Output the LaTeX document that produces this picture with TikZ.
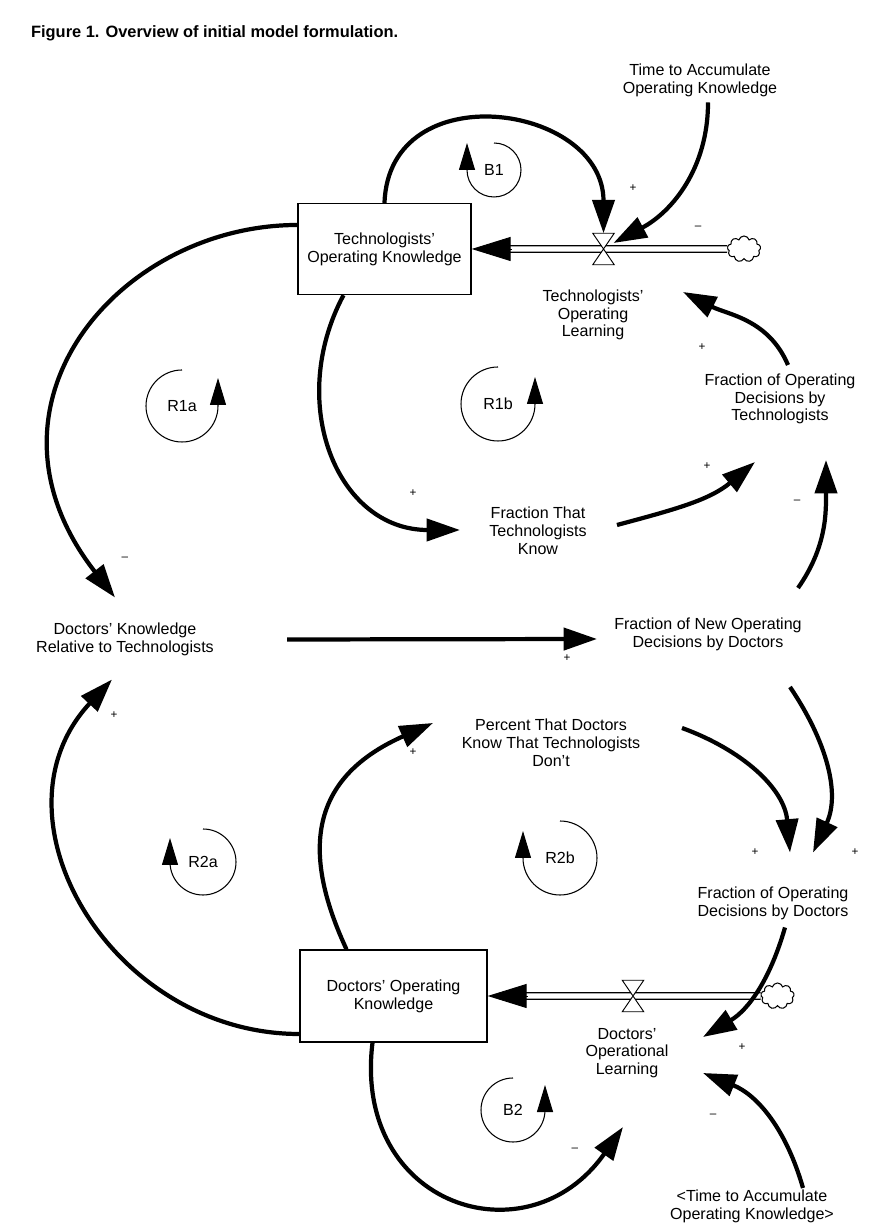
\documentclass[tikz,border=0pt]{standalone}
\usepackage{fontspec}
\setmainfont{Liberation Sans}
\usetikzlibrary{arrows.meta,calc,shapes.symbols}

\tikzset{
  link/.style={line width=3.6pt, -{Triangle[length=1cm,width=0.66cm]}},
  pipe/.style={double, double distance=0.16cm, line width=1pt},
  flowtip/.style={line width=0.8pt, -{Triangle[length=1.17cm,width=0.72cm]}},
  stock/.style={draw, line width=1.1pt, align=center, inner sep=0pt},
  var/.style={align=center},
  valve/.style={minimum width=0.63cm, minimum height=0.93cm, inner sep=0pt},
  source/.style={cloud, draw, cloud puffs=9, aspect=1.3, minimum width=1cm,
                 minimum height=0.78cm, inner sep=0pt, line width=0.9pt, fill=white},
  loopmark/.style={line width=0.9pt, -{Triangle[length=0.81cm,width=0.48cm]}},
  sgn/.style={font=\fontsize{10}{10}\selectfont, inner sep=0pt}
}

\begin{document}
\begin{tikzpicture}[x=0.03cm, y=0.03cm, font=\fontsize{13.7}{15.2}\selectfont]
  \useasboundingbox (0,0) rectangle (885,1229);

  \node[anchor=west, font=\fontsize{14}{16}\selectfont\bfseries] (title) at (27,1196)
    {Figure 1. Overview of initial model formulation.};

  % Technologists' stock and flow
  \node[stock, minimum width=5.19cm, minimum height=2.73cm] (tok) at (384.5,980)
    {Technologists’\\Operating Knowledge};
  \node[valve] (vT) at (603.5,980) {};
  \node[source] (cloudT) at (744,980) {};
  \node[var] (tol) at (593,914) {Technologists’\\Operating\\Learning};
  \node[var] (ttak) at (700,1148.5) {Time to Accumulate\\Operating Knowledge};
  \draw[pipe] (cloudT.west) -- ($(tok.east)+(38,0)$);
  \draw[flowtip] ($(tok.east)+(40,0)$) -- (tok.east);
  \draw[fill=white, line width=0.8pt] (vT.north west) -- (vT.north east)
    -- (vT.south west) -- (vT.south east) -- cycle;

  % auxiliaries
  \node[var] (fodt) at (780,830) {Fraction of Operating\\Decisions by\\Technologists};
  \node[var] (fttk) at (538,698) {Fraction That\\Technologists\\Know};
  \node[var] (dkrt) at (125,589.5) {Doctors’ Knowledge\\Relative to Technologists};
  \node[var] (fnodd) at (708,595) {Fraction of New Operating\\Decisions by Doctors};
  \node[var] (ptdk) at (551,486) {Percent That Doctors\\Know That Technologists\\Don’t};
  \node[var] (fodd) at (773,325.5) {Fraction of Operating\\Decisions by Doctors};

  % Doctors' stock and flow
  \node[stock, minimum width=5.61cm, minimum height=2.76cm] (dok) at (393.5,233)
    {Doctors’ Operating\\Knowledge};
  \node[valve] (vD) at (633,233) {};
  \node[source] (cloudD) at (777.5,233) {};
  \node[var] (dol) at (627,176) {Doctors’\\Operational\\Learning};
  \node[var] (ttak2) at (752,23) {<Time to Accumulate\\Operating Knowledge>};
  \draw[pipe] (cloudD.west) -- ($(dok.east)+(38,0)$);
  \draw[flowtip] ($(dok.east)+(40,0)$) -- (dok.east);
  \draw[fill=white, line width=0.8pt] (vD.north west) -- (vD.north east)
    -- (vD.south west) -- (vD.south east) -- cycle;

  % causal links
  \draw[link] (tok.north) to[out=88, in=90, looseness=1.5] (vT.north);
  \draw[link] ($(ttak)+(8,-22)$) to[out=-90, in=28] ($(vT)+(10,6)$);
  \draw[link] ($(tok.west)+(0,24)$) to[out=180, in=128, out looseness=1.1, in looseness=1.5]
    ($(dkrt)+(-10,42)$);
  \draw[link] ($(tok.south)+(-41,0)$) to[out=242, in=180, looseness=1.2] ($(fttk)+(-78,1)$);
  \draw[link] ($(fttk)+(79,6)$) to[out=15, in=220] ($(fodt)+(-25,-63)$);
  \draw[link] ($(fodt)+(8,34)$) to[out=113, in=-27] ($(tol)+(90,23)$);
  \draw[link] ($(fnodd)+(90,46)$) to[out=55, in=-90] ($(fodt)+(46,-61)$);
  \draw[link] ($(dkrt)+(162,0)$) -- ($(fnodd)+(-111,-5)$);
  \draw[link] ($(ptdk)+(131,15)$) to[out=-20, in=95] ($(fodd)+(17,51)$);
  \draw[link] ($(fnodd)+(82,-53)$) to[out=-56, in=65] ($(fodd)+(40,51)$);
  \draw[link] ($(fodd)+(12,-24)$) to[out=254, in=31] ($(dol)+(76,16)$);
  \draw[link] ($(ttak2)+(51,18)$) to[out=106, in=-22] ($(dol)+(76,-20)$);
  \draw[link] ($(dok.south)+(-21,0)$) to[out=263, in=235, looseness=1.6] ($(dol)+(-4,-74)$);
  \draw[link] ($(dok.north)+(-47,0)$) to[out=115, in=204, looseness=1.3] ($(ptdk)+(-118,20)$);
  \draw[link] ($(dok.west)+(0,-38)$) to[out=180, in=227, looseness=1.2] ($(dkrt)+(-13,-40)$);

  % link polarities
  \node[sgn] (s1) at (633,1041) {+};
  \node[sgn] (s2) at (698,1001) {–};
  \node[sgn] (s3) at (702,882) {+};
  \node[sgn] (s4) at (707,763) {+};
  \node[sgn] (s5) at (797,727) {–};
  \node[sgn] (s6) at (413,736) {+};
  \node[sgn] (s7) at (125,670) {–};
  \node[sgn] (s8) at (567,571) {+};
  \node[sgn] (s9) at (114,514) {+};
  \node[sgn] (s10) at (413,477) {+};
  \node[sgn] (s11) at (755,377) {+};
  \node[sgn] (s12) at (855,377) {+};
  \node[sgn] (s13) at (742,182) {+};
  \node[sgn] (s14) at (713,113) {–};
  \node[sgn] (s15) at (575,79) {–};

  % loop identifiers
  \node (lB1) at (494,1059) {B1};
  \draw[loopmark] ($(lB1)+(0,27)$) arc[start angle=90, end angle=-180, radius=0.81cm] -- ++(0,27);
  \node (lR1a) at (182,823) {R1a};
  \draw[loopmark] ($(lR1a)+(0,36)$) arc[start angle=90, end angle=360, radius=1.08cm] -- ++(0,28);
  \node (lR1b) at (498,825) {R1b};
  \draw[loopmark] ($(lR1b)+(0,37)$) arc[start angle=90, end angle=360, radius=1.11cm] -- ++(0,27);
  \node (lR2a) at (203,367) {R2a};
  \draw[loopmark] ($(lR2a)+(0,33)$) arc[start angle=90, end angle=-180, radius=0.99cm] -- ++(0,24);
  \node (lR2b) at (560,371) {R2b};
  \draw[loopmark] ($(lR2b)+(0,37)$) arc[start angle=90, end angle=-180, radius=1.11cm] -- ++(0,27);
  \node (lB2) at (513,119) {B2};
  \draw[loopmark] ($(lB2)+(0,32)$) arc[start angle=90, end angle=360, radius=0.96cm] -- ++(0,25);
\end{tikzpicture}
\end{document}
